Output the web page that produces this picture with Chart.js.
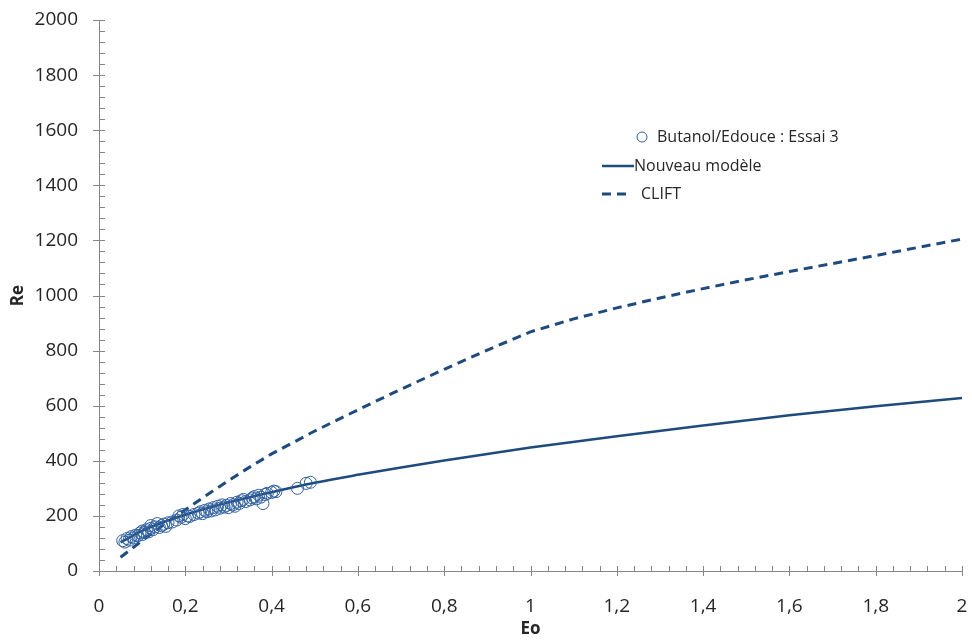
<!DOCTYPE html>
<html>
<head>
<meta charset="utf-8">
<script src="https://cdn.jsdelivr.net/npm/chart.js@4/dist/chart.umd.min.js"></script>
<style>
  html, body { margin: 0; padding: 0; background: #fff; }
  #wrap { width: 972px; height: 641px; }
</style>
</head>
<body>
<div id="wrap"><canvas id="graphe"></canvas></div>
<script>
// points de mesure Butanol/Edouce : Essai 3
const essaiEo = [0.055, 0.06, 0.065, 0.07, 0.075, 0.08, 0.085, 0.09, 0.095, 0.10, 0.10, 0.105, 0.11, 0.115, 0.12, 0.12,
  0.125, 0.13, 0.135, 0.14, 0.145, 0.15, 0.155, 0.16, 0.17, 0.18, 0.185, 0.19, 0.195, 0.20, 0.205, 0.21, 0.22,
  0.23, 0.235, 0.24, 0.245, 0.25, 0.255, 0.26, 0.265, 0.27, 0.275, 0.28, 0.285, 0.29, 0.295, 0.30, 0.305, 0.31,
  0.315, 0.32, 0.325, 0.33, 0.335, 0.34, 0.35, 0.355, 0.36, 0.365, 0.37, 0.375, 0.38, 0.385, 0.39, 0.40, 0.405,
  0.41, 0.46, 0.48, 0.49];
const essaiRe = [110, 105, 118, 112, 125, 120, 130, 128, 138, 132, 145, 140, 150, 142, 155, 165,
  150, 160, 172, 158, 165, 170, 162, 175, 178, 185, 200, 195, 205, 190, 200, 198, 205,
  210, 215, 208, 220, 215, 225, 218, 230, 222, 235, 228, 240, 232, 238, 230, 245, 240,
  235, 250, 245, 255, 260, 252, 258, 265, 270, 262, 275, 268, 245, 278, 282, 285, 290,
  288, 300, 318, 322];

// Nouveau modèle
const modeleEo = [0.05, 0.1, 0.15, 0.2, 0.3, 0.4, 0.5, 0.6, 0.7, 0.8, 0.9, 1.0, 1.2, 1.4, 1.6, 1.8, 2.0];
const modeleRe = [104, 146, 178, 204, 249, 286, 320, 349, 376, 401, 425, 448, 489, 528, 565, 598, 628];

// CLIFT
const cliftEo = [0.05, 0.1, 0.15, 0.2, 0.25, 0.3, 0.35, 0.4, 0.5, 0.6, 0.7, 0.8, 0.9, 1.0, 1.1, 1.2, 1.3, 1.4, 1.5, 1.6, 1.7, 1.8, 1.9, 2.0];
const cliftRe = [50, 110, 168, 222, 276, 328, 378, 425, 508, 585, 660, 732, 802, 868, 915, 955, 991, 1025, 1057, 1087, 1116, 1145, 1175, 1205];

const BLEU = '#1F4A7E';
const BLEU_POINTS = '#30609F';
const GRIS = '#868686';
const POLICE = "'Open Sans', 'DejaVu Sans', sans-serif";

function paires(xs, ys) {
  return xs.map((x, i) => ({ x: x, y: ys[i] }));
}

// petites graduations + graduations principales qui croisent l'axe
const graduations = {
  id: 'graduations',
  afterDraw(chart) {
    const ctx = chart.ctx;
    const sx = chart.scales.x, sy = chart.scales.y;
    const axeY = sy.getPixelForValue(0);
    const axeX = sx.getPixelForValue(0);
    ctx.save();
    ctx.strokeStyle = GRIS;
    ctx.lineWidth = 1;
    ctx.beginPath();
    for (let i = 0; i <= 50; i++) {
      const px = Math.round(sx.getPixelForValue(i * 0.04)) + 0.5;
      if (i % 5 === 0) { ctx.moveTo(px, axeY - 5); ctx.lineTo(px, axeY + 5); }
      else { ctx.moveTo(px, axeY - 5); ctx.lineTo(px, axeY); }
    }
    for (let i = 0; i <= 50; i++) {
      const py = Math.round(sy.getPixelForValue(i * 40)) + 0.5;
      if (i % 5 === 0) { ctx.moveTo(axeX - 6, py); ctx.lineTo(axeX + 6, py); }
      else { ctx.moveTo(axeX, py); ctx.lineTo(axeX + 6, py); }
    }
    ctx.stroke();
    ctx.restore();
  }
};

// légende dessinée dans la zone du graphique
const legende = {
  id: 'legende',
  afterDraw(chart) {
    const ctx = chart.ctx;
    ctx.save();
    ctx.font = '16px ' + POLICE;
    ctx.fillStyle = '#262626';
    ctx.textBaseline = 'middle';
    ctx.textAlign = 'left';

    ctx.strokeStyle = BLEU_POINTS;
    ctx.lineWidth = 1;
    ctx.beginPath();
    ctx.arc(642, 137, 5, 0, Math.PI * 2);
    ctx.stroke();
    ctx.fillText('Butanol/Edouce : Essai 3', 657, 137);

    ctx.strokeStyle = BLEU;
    ctx.lineWidth = 2.5;
    ctx.beginPath();
    ctx.moveTo(602, 166); ctx.lineTo(634, 166);
    ctx.stroke();
    ctx.fillText('Nouveau modèle', 634, 166);

    ctx.setLineDash([9, 6]);
    ctx.lineWidth = 3;
    ctx.beginPath();
    ctx.moveTo(602, 194); ctx.lineTo(626, 194);
    ctx.stroke();
    ctx.setLineDash([]);
    ctx.fillText('CLIFT', 641, 194);
    ctx.restore();
  }
};

Chart.defaults.font.family = POLICE;
Chart.defaults.color = '#262626';

new Chart(document.getElementById('graphe'), {
  type: 'scatter',
  data: {
    datasets: [
      {
        label: 'Butanol/Edouce : Essai 3',
        data: paires(essaiEo, essaiRe),
        pointStyle: 'circle',
        pointRadius: 6,
        backgroundColor: 'rgba(0,0,0,0)',
        borderColor: BLEU_POINTS,
        borderWidth: 1,
        order: 1
      },
      {
        label: 'Nouveau modèle',
        type: 'line',
        data: paires(modeleEo, modeleRe),
        borderColor: BLEU,
        borderWidth: 2.5,
        pointRadius: 0,
        cubicInterpolationMode: 'monotone',
        fill: false,
        order: 2
      },
      {
        label: 'CLIFT',
        type: 'line',
        data: paires(cliftEo, cliftRe),
        borderColor: BLEU,
        borderWidth: 3,
        borderDash: [9, 6],
        pointRadius: 0,
        tension: 0,
        fill: false,
        order: 3
      }
    ]
  },
  options: {
    responsive: true,
    maintainAspectRatio: false,
    animation: false,
    layout: { padding: { top: 20, right: 10, left: 0, bottom: 0 } },
    plugins: {
      legend: { display: false },
      tooltip: { enabled: false }
    },
    scales: {
      x: {
        type: 'linear',
        min: 0,
        max: 2,
        grid: { display: false },
        border: { display: true, color: GRIS, width: 1 },
        ticks: {
          stepSize: 0.2,
          padding: 16,
          font: { size: 19 },
          color: '#262626',
          callback: v => String(Math.round(v * 10) / 10).replace('.', ',')
        },
        title: { display: true, text: 'Eo', font: { size: 17, weight: 'bold' }, color: '#262626', padding: { top: 0, bottom: 2 } },
        afterFit: s => { s.height = 70; s.paddingLeft = 0; s.paddingRight = 0; }
      },
      y: {
        min: 0,
        max: 2000,
        grid: { display: false },
        border: { display: true, color: GRIS, width: 1 },
        ticks: {
          stepSize: 200,
          padding: 13,
          font: { size: 19 },
          color: '#262626',
          callback: v => String(v)
        },
        title: { display: true, text: 'Re', font: { size: 17, weight: 'bold' }, color: '#262626', padding: { top: 8, bottom: 0 } },
        afterFit: s => { s.width = 99; s.paddingTop = 0; s.paddingBottom = 0; }
      }
    }
  },
  plugins: [graduations, legende]
});
</script>
</body>
</html>
